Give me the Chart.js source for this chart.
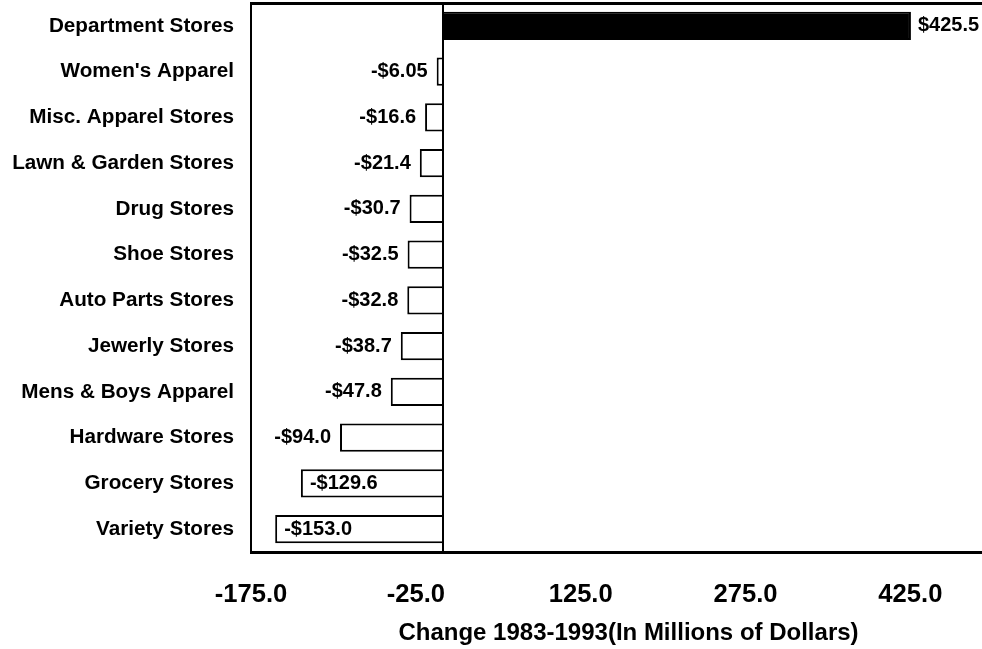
<!DOCTYPE html>
<html>
<head>
<meta charset="utf-8">
<title>Change in Retail Sales by Store Type, 1983-1993</title>
<script src="https://cdn.jsdelivr.net/npm/chart.js@4/dist/chart.umd.min.js"></script>
<style>
  html, body { margin: 0; padding: 0; background: #fff; overflow: hidden; }
  #wrap { position: relative; width: 1006px; height: 649px; }
</style>
</head>
<body>
<div id="wrap"><canvas id="chart"></canvas></div>
<script>
// Store types, top to bottom
const categories = [
  'Department Stores',
  "Women's Apparel",
  'Misc. Apparel Stores',
  'Lawn & Garden Stores',
  'Drug Stores',
  'Shoe Stores',
  'Auto Parts Stores',
  'Jewerly Stores',
  'Mens & Boys Apparel',
  'Hardware Stores',
  'Grocery Stores',
  'Variety Stores'
];

// Change in sales, millions of dollars
const changes = [425.5, -6.05, -16.6, -21.4, -30.7, -32.5, -32.8, -38.7, -47.8, -94.0, -129.6, -153.0];

// Labelled positions on the value axis
const xTickValues = [-175, -25, 125, 275, 425];

const axisTitle = 'Change 1983-1993(In Millions of Dollars)';

const FONT = '"Liberation Sans", Arial, Helvetica, sans-serif';

function formatMoney(v) {
  const a = Math.abs(v);
  const s = a < 10 ? a.toFixed(2) : a.toFixed(1);
  return (v < 0 ? '-$' : '$') + s;
}

// Top frame edge and the vertical zero line
const framePlugin = {
  id: 'frame',
  afterDatasetsDraw(chart) {
    const { ctx, chartArea, scales } = chart;
    ctx.save();
    ctx.strokeStyle = '#000';
    ctx.lineWidth = 3;
    ctx.beginPath();
    ctx.moveTo(chartArea.left - 1, chartArea.top + 0.5);
    ctx.lineTo(chartArea.right, chartArea.top + 0.5);
    ctx.stroke();
    const x0 = Math.round(scales.x.getPixelForValue(0));
    ctx.lineWidth = 2;
    ctx.beginPath();
    ctx.moveTo(x0, chartArea.top);
    ctx.lineTo(x0, chartArea.bottom);
    ctx.stroke();
    ctx.restore();
  }
};

// Value labels beside (or inside, when there is no room) each bar
const valueLabelPlugin = {
  id: 'valueLabels',
  afterDatasetsDraw(chart) {
    const { ctx, chartArea } = chart;
    const meta = chart.getDatasetMeta(0);
    ctx.save();
    ctx.font = 'bold 20px ' + FONT;
    ctx.fillStyle = '#000';
    ctx.textBaseline = 'middle';
    meta.data.forEach((bar, i) => {
      const v = changes[i];
      const text = formatMoney(v);
      const w = ctx.measureText(text).width;
      if (v >= 0) {
        ctx.textAlign = 'left';
        ctx.fillText(text, bar.x + 7, bar.y);
      } else if (bar.x - 9 - w > chartArea.left + 4) {
        ctx.textAlign = 'right';
        ctx.fillText(text, bar.x - 9, bar.y);
      } else {
        ctx.textAlign = 'left';
        ctx.fillText(text, bar.x + 9, bar.y);
      }
    });
    ctx.restore();
  }
};

new Chart(document.getElementById('chart'), {
  type: 'bar',
  data: {
    labels: categories,
    datasets: [{
      data: changes,
      backgroundColor: (c) => (c.raw > 0 ? '#000' : '#fff'),
      borderColor: '#000',
      borderWidth: 2,
      borderSkipped: 'start',
      barPercentage: 0.62,
      categoryPercentage: 1.0
    }]
  },
  options: {
    indexAxis: 'y',
    responsive: true,
    maintainAspectRatio: false,
    animation: false,
    devicePixelRatio: 1,
    layout: { padding: { top: 3, left: 0, right: 0, bottom: 0 } },
    plugins: {
      legend: { display: false },
      tooltip: { enabled: false }
    },
    scales: {
      x: {
        type: 'linear',
        position: 'bottom',
        min: -175,
        max: 512,
        afterBuildTicks: (s) => { s.ticks = xTickValues.map((v) => ({ value: v })); },
        afterFit: (s) => { s.height = 97; s.paddingLeft = 0; s.paddingRight = 0; },
        grid: { display: false, drawTicks: false },
        border: { display: true, color: '#000', width: 3 },
        ticks: {
          autoSkip: false,
          maxRotation: 0,
          padding: 28,
          color: '#000',
          font: { family: FONT, size: 25.6, weight: 'bold' },
          callback: (v) => Number(v).toFixed(1)
        },
        title: {
          display: true,
          text: axisTitle,
          color: '#000',
          font: { family: FONT, size: 24, weight: 'bold' },
          padding: { top: 0, bottom: 1 }
        }
      },
      y: {
        type: 'category',
        afterFit: (s) => { s.width = 251; s.paddingTop = 0; s.paddingBottom = 0; },
        grid: { display: false, drawTicks: false },
        border: { display: true, color: '#000', width: 2 },
        ticks: {
          padding: 17,
          color: '#000',
          font: { family: FONT, size: 20.7, weight: 'bold' }
        }
      }
    }
  },
  plugins: [framePlugin, valueLabelPlugin]
});
</script>
</body>
</html>
